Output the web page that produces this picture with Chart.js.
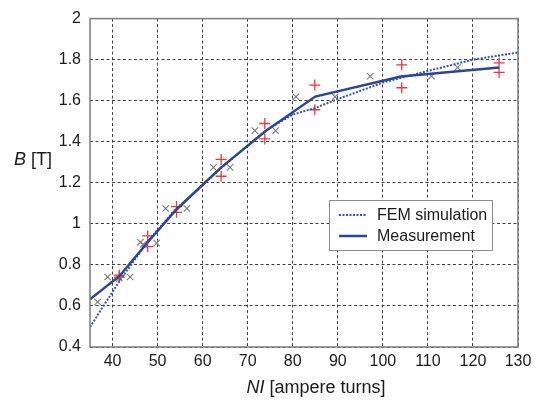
<!DOCTYPE html>
<html>
<head>
<meta charset="utf-8">
<script src="https://cdn.jsdelivr.net/npm/chart.js@4/dist/chart.umd.min.js"></script>
<style>
  body { margin: 0; background: #fff; }
  #wrap { width: 537px; height: 403px; }
</style>
</head>
<body>
<div id="wrap"><canvas id="bhChart" width="537" height="403"></canvas></div>
<script>
// tick labels
const xTickValues = [40, 50, 60, 70, 80, 90, 100, 110, 120, 130];
const yTickValues = [0.4, 0.6, 0.8, 1, 1.2, 1.4, 1.6, 1.8, 2];

// legend entries
const seriesLabels = ["FEM simulation", "Measurement"];

// FEM simulation curve (dotted)
const femNI = [35, 41.5, 48, 54, 64, 74, 80, 85, 90, 100, 104, 110, 120, 130];
const femB = [0.497, 0.72, 0.92, 1.07, 1.27, 1.455, 1.532, 1.565, 1.608, 1.688, 1.711, 1.745, 1.8, 1.835];

// Measurement curve (solid) - mean of the red samples
const measNI = [35, 41.5, 48, 54.2, 64, 74, 85, 104, 125.8];
const measB = [0.632, 0.745, 0.915, 1.07, 1.273, 1.452, 1.62, 1.718, 1.762];

// red + samples
const plusNI = [41.5, 41.5, 47.8, 47.8, 54.2, 54.2, 64.1, 64.1, 73.8, 73.8, 84.9, 84.9, 104.2, 104.2, 125.8, 125.8];
const plusB = [0.75, 0.74, 0.941, 0.889, 1.084, 1.056, 1.314, 1.232, 1.489, 1.414, 1.676, 1.556, 1.775, 1.663, 1.784, 1.738];

// grey x samples
const crossNI = [36.7, 38.9, 41.5, 43.9, 46.2, 46.8, 49.8, 51.8, 56.5, 62.4, 66.1, 71.6, 76.2, 80.7, 89.4, 97.2, 110.8, 116.6];
const crossB = [0.619, 0.741, 0.735, 0.741, 0.91, 0.9, 0.906, 1.075, 1.075, 1.275, 1.275, 1.454, 1.454, 1.619, 1.619, 1.719, 1.719, 1.762];

const FONT = "'Liberation Sans', Arial, sans-serif";
const femColor = "#3553b0";
const measColor = "#2b4597";

function toPoints(xs, ys) {
  return xs.map((x, i) => ({ x: x, y: ys[i] }));
}

// text with italic parts, centred on (cx, cy)
function drawMixed(ctx, parts, cx, cy, size) {
  let total = 0;
  parts.forEach((p) => {
    ctx.font = (p[1] ? "italic " : "") + size + "px " + FONT;
    total += ctx.measureText(p[0]).width;
  });
  let x = cx - total / 2;
  ctx.textBaseline = "middle";
  ctx.textAlign = "left";
  parts.forEach((p) => {
    ctx.font = (p[1] ? "italic " : "") + size + "px " + FONT;
    ctx.fillText(p[0], x, cy);
    x += ctx.measureText(p[0]).width;
  });
}

const framePlugin = {
  id: "frame",
  afterDraw(chart) {
    const ctx = chart.ctx;
    const a = chart.chartArea;
    ctx.save();
    // box round the plot
    ctx.strokeStyle = "#7d7d7d";
    ctx.lineWidth = 1.5;
    ctx.setLineDash([]);
    ctx.strokeRect(a.left, a.top, a.right - a.left, a.bottom - a.top);

    // axis titles
    ctx.fillStyle = "#1a1a1a";
    drawMixed(ctx, [["B", true], [" [T]", false]], 33, 160, 18);
    drawMixed(ctx, [["NI", true], [" [ampere turns]", false]], 316, 388, 18);

    // legend box
    const lx = 329, ly = 200, lw = 163, lh = 50;
    ctx.fillStyle = "#fff";
    ctx.fillRect(lx, ly, lw, lh);
    ctx.strokeStyle = "#8c8c8c";
    ctx.lineWidth = 1;
    ctx.strokeRect(lx + 0.5, ly + 0.5, lw, lh);
    const ds = chart.data.datasets;
    [0, 1].forEach((i) => {
      const y = 215 + i * 21;
      ctx.strokeStyle = ds[i].borderColor;
      ctx.lineWidth = ds[i].borderWidth;
      ctx.setLineDash(ds[i].borderDash || []);
      ctx.beginPath();
      ctx.moveTo(339, y);
      ctx.lineTo(367, y);
      ctx.stroke();
      ctx.setLineDash([]);
      ctx.fillStyle = "#1a1a1a";
      ctx.font = "16px " + FONT;
      ctx.textAlign = "left";
      ctx.textBaseline = "middle";
      ctx.fillText(ds[i].label, 377, y + 1);
    });
    ctx.restore();
  },
};

new Chart(document.getElementById("bhChart"), {
  type: "scatter",
  data: {
    datasets: [
      {
        label: seriesLabels[0],
        data: toPoints(femNI, femB),
        showLine: true,
        borderColor: femColor,
        borderWidth: 2,
        borderDash: [2, 1.5],
        pointRadius: 0,
        order: 1,
      },
      {
        label: seriesLabels[1],
        data: toPoints(measNI, measB),
        showLine: true,
        borderColor: measColor,
        borderWidth: 2.5,
        pointRadius: 0,
        order: 0,
      },
      {
        label: "samples +",
        data: toPoints(plusNI, plusB),
        pointStyle: "cross",
        pointRadius: 5.5,
        pointBorderColor: "#e53a3a",
        pointBorderWidth: 1.3,
        order: 2,
      },
      {
        label: "samples x",
        data: toPoints(crossNI, crossB),
        pointStyle: "crossRot",
        pointRadius: 4.5,
        pointBorderColor: "#7a7a7a",
        pointBorderWidth: 1.1,
        order: 3,
      },
    ],
  },
  options: {
    responsive: false,
    animation: false,
    layout: { padding: { top: 11, right: 19, left: 0, bottom: 0 } },
    plugins: { legend: { display: false }, tooltip: { enabled: false } },
    scales: {
      x: {
        type: "linear",
        min: 35,
        max: 130,
        afterBuildTicks: (s) => { s.ticks = xTickValues.map((v) => ({ value: v })); },
        afterFit: (s) => { s.height = 56; },
        grid: { color: "#404040", lineWidth: 1, drawTicks: false },
        border: { display: false, dash: [3, 2.5] },
        ticks: { padding: 5, color: "#1a1a1a", font: { family: FONT, size: 16 } },
      },
      y: {
        type: "linear",
        min: 0.4,
        max: 2,
        afterBuildTicks: (s) => { s.ticks = yTickValues.map((v) => ({ value: v })); },
        afterFit: (s) => { s.width = 90; },
        grid: { color: "#404040", lineWidth: 1, drawTicks: false },
        border: { display: false, dash: [3, 2.5] },
        ticks: {
          padding: 9,
          color: "#1a1a1a",
          font: { family: FONT, size: 16 },
          callback: (v) => String(+v.toFixed(1)),
        },
      },
    },
  },
  plugins: [framePlugin],
});
</script>
</body>
</html>
